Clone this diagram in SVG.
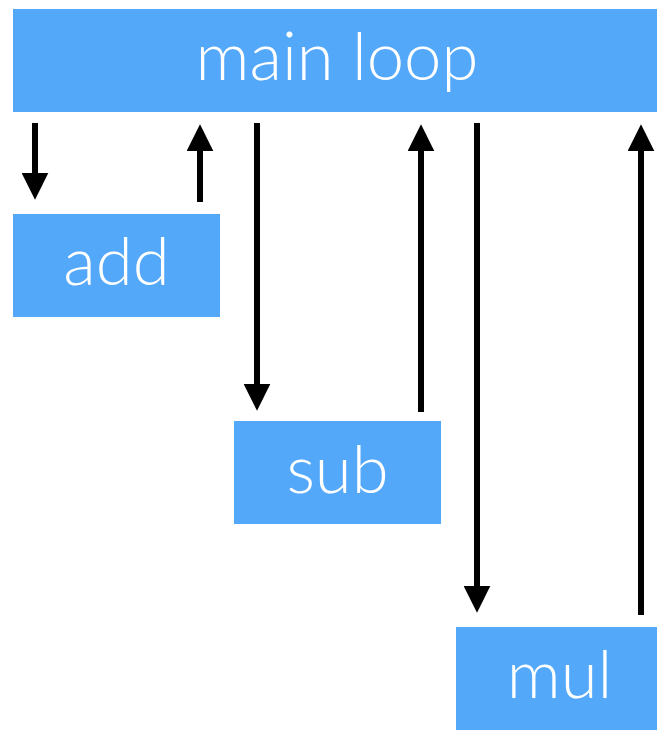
<svg xmlns="http://www.w3.org/2000/svg" width="657" height="730" viewBox="0 0 657 730">
<defs>
<style>
.box{fill:#53a8fa}
.lbl{fill:#fff;font-family:Lato,"Open Sans",sans-serif;font-weight:300;font-size:67px;text-anchor:middle}
.ln{stroke:#000;stroke-width:6;fill:none}
</style>
<marker id="ah" viewBox="0 0 10 10" refX="0.5" refY="5" markerUnits="userSpaceOnUse" markerWidth="27" markerHeight="27" orient="auto">
<path d="M0,0 L10,5 L0,10 Z" fill="#000"/>
</marker>
</defs>
<rect width="657" height="730" fill="#fff"/>
<g id="main"><rect class="box" x="13" y="9" width="660" height="103"/><text class="lbl" x="337" y="80">main loop</text></g>
<g id="add"><rect class="box" x="13" y="214" width="207" height="103"/><text class="lbl" x="116.5" y="285">add</text></g>
<g id="sub"><rect class="box" x="234" y="421" width="207" height="103"/><text class="lbl" x="337.5" y="493">sub</text></g>
<g id="mul"><rect class="box" x="456" y="627" width="207" height="103"/><text class="lbl" x="559.5" y="698">mul</text></g>
<g id="connectors">
<line class="ln" x1="35" y1="123" x2="35" y2="174" marker-end="url(#ah)"/>
<line class="ln" x1="200" y1="202" x2="200" y2="150" marker-end="url(#ah)"/>
<line class="ln" x1="257" y1="123" x2="257" y2="385" marker-end="url(#ah)"/>
<line class="ln" x1="421" y1="412" x2="421" y2="150" marker-end="url(#ah)"/>
<line class="ln" x1="477" y1="123" x2="477" y2="587" marker-end="url(#ah)"/>
<line class="ln" x1="641" y1="615" x2="641" y2="150" marker-end="url(#ah)"/>
</g>
</svg>
